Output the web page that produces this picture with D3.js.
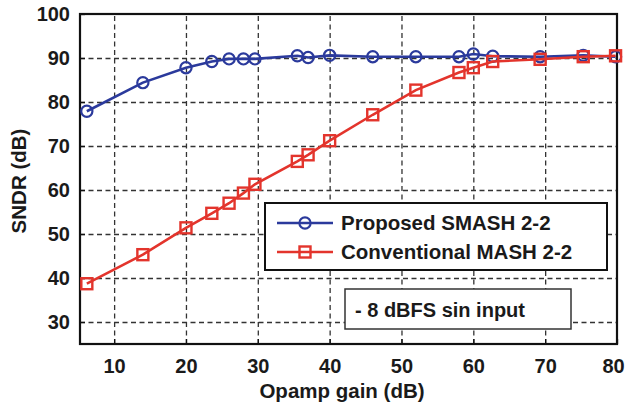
<!DOCTYPE html>
<html>
<head>
<meta charset="utf-8">
<script src="https://cdn.jsdelivr.net/npm/d3@7"></script>
<style>
  html, body { margin: 0; padding: 0; background: #fff; overflow: hidden; }
  svg { display: block; }
  text { font-family: "Liberation Sans", Arial, sans-serif; font-weight: bold; fill: #1a1a1a; }
</style>
</head>
<body>
<div id="chart"></div>
<script>
// ---- data ----
const gain = [6.2, 14, 20, 23.6, 26, 28, 29.6, 35.5, 37, 40, 46, 52, 58, 60, 62.7, 69.3, 75.3, 79.8];
const proposed = [77.9, 84.4, 87.8, 89.2, 89.8, 89.8, 89.8, 90.5, 90.1, 90.6, 90.3, 90.3, 90.3, 90.9, 90.4, 90.3, 90.6, 90.3];
const conventional = [38.7, 45.3, 51.4, 54.7, 57.0, 59.3, 61.3, 66.5, 68.0, 71.2, 77.1, 82.7, 86.7, 87.8, 89.2, 89.7, 90.3, 90.5];
const xTicks = [10, 20, 30, 40, 50, 60, 70, 80];
const yTicks = [30, 40, 50, 60, 70, 80, 90, 100];
const seriesNames = ["Proposed SMASH 2-2", "Conventional MASH 2-2"];
const note = "- 8 dBFS sin input";

const width = 626, height = 408;
const margin = { top: 14, right: 9, bottom: 64, left: 80 };
const innerWidth = width - margin.left - margin.right;
const innerHeight = height - margin.top - margin.bottom;

const blue = "#2b3a9c";
const red = "#e3342c";

const svg = d3.select("#chart").append("svg")
    .attr("width", width)
    .attr("height", height);

const g = svg.append("g")
    .attr("transform", `translate(${margin.left},${margin.top})`);

const x = d3.scaleLinear().domain([5.25, 80]).range([0, innerWidth]);
const y = d3.scaleLinear().domain([25, 100]).range([innerHeight, 0]);

// grid (dashed), no labels
const styleGrid = sel => {
    sel.select(".domain").remove();
    sel.selectAll("text").remove();
    sel.selectAll("line")
        .attr("stroke", "#333")
        .attr("stroke-width", 1.3)
        .attr("stroke-dasharray", "5,3.5");
};

g.append("g")
    .attr("transform", `translate(0,${innerHeight})`)
    .call(d3.axisBottom(x).tickValues(xTicks.slice(0, -1)).tickSize(-innerHeight))
    .call(styleGrid);

g.append("g")
    .call(d3.axisLeft(y).tickValues(yTicks.slice(0, -1)).tickSize(-innerWidth))
    .call(styleGrid);

// axes with labels
const xAxis = g.append("g")
    .attr("transform", `translate(0,${innerHeight})`)
    .call(d3.axisBottom(x).tickValues(xTicks).tickSize(-5).tickPadding(15));
xAxis.select(".domain").remove();
xAxis.selectAll("line").attr("stroke", "#111").attr("stroke-width", 1.3);
xAxis.selectAll("text").attr("font-size", 20).attr("fill", "#1a1a1a");
// keep the last label inside the page
xAxis.selectAll("text").filter(d => d === 80).attr("x", -4);

const yAxis = g.append("g")
    .call(d3.axisLeft(y).tickValues(yTicks).tickSize(-5).tickPadding(10));
yAxis.select(".domain").remove();
yAxis.selectAll("line").attr("stroke", "#111").attr("stroke-width", 1.3);
yAxis.selectAll("text").attr("font-size", 20).attr("fill", "#1a1a1a");

// frame
g.append("rect")
    .attr("width", innerWidth)
    .attr("height", innerHeight)
    .attr("fill", "none")
    .attr("stroke", "#111")
    .attr("stroke-width", 2.2);

// series
const line = d3.line().x(d => x(d[0])).y(d => y(d[1]));
const blueData = d3.zip(gain, proposed);
const redData = d3.zip(gain, conventional);

g.append("path")
    .datum(blueData)
    .attr("d", line)
    .attr("fill", "none")
    .attr("stroke", blue)
    .attr("stroke-width", 2.6);

g.selectAll(".circ")
    .data(blueData)
    .join("circle")
        .attr("class", "circ")
        .attr("cx", d => x(d[0]))
        .attr("cy", d => y(d[1]))
        .attr("r", 5.6)
        .attr("fill", "none")
        .attr("stroke", blue)
        .attr("stroke-width", 2.2);

g.append("path")
    .datum(redData)
    .attr("d", line)
    .attr("fill", "none")
    .attr("stroke", red)
    .attr("stroke-width", 2.6);

const sq = 11;
g.selectAll(".sq")
    .data(redData)
    .join("rect")
        .attr("class", "sq")
        .attr("x", d => x(d[0]) - sq / 2)
        .attr("y", d => y(d[1]) - sq / 2)
        .attr("width", sq)
        .attr("height", sq)
        .attr("fill", "none")
        .attr("stroke", red)
        .attr("stroke-width", 2.4);

// legend
const legend = svg.append("g").attr("transform", "translate(265,203)");
legend.append("rect")
    .attr("width", 342)
    .attr("height", 67)
    .attr("fill", "#fff")
    .attr("stroke", "#111")
    .attr("stroke-width", 2);

[blue, red].forEach((c, i) => {
    const row = legend.append("g").attr("transform", `translate(0,${20 + i * 29})`);
    row.append("line")
        .attr("x1", 12).attr("x2", 68)
        .attr("stroke", c)
        .attr("stroke-width", 2.6);
    if (i === 0) {
        row.append("circle").attr("cx", 40).attr("r", 5.6)
            .attr("fill", "none").attr("stroke", c).attr("stroke-width", 2.2);
    } else {
        row.append("rect").attr("x", 40 - sq / 2).attr("y", -sq / 2)
            .attr("width", sq).attr("height", sq)
            .attr("fill", "none").attr("stroke", c).attr("stroke-width", 2.4);
    }
    row.append("text")
        .attr("x", 76)
        .attr("dy", "0.36em")
        .attr("font-size", 20.5)
        .text(seriesNames[i]);
});

// annotation box
const ann = svg.append("g").attr("transform", "translate(345,289)");
ann.append("rect")
    .attr("width", 226)
    .attr("height", 40)
    .attr("fill", "#fff")
    .attr("stroke", "#333")
    .attr("stroke-width", 1.5);
ann.append("text")
    .attr("x", 10)
    .attr("y", 28)
    .attr("font-size", 20)
    .text(note);

// axis titles
svg.append("text")
    .attr("x", 342)
    .attr("y", 398)
    .attr("text-anchor", "middle")
    .attr("font-size", 20.5)
    .text("Opamp gain (dB)");

svg.append("text")
    .attr("transform", "translate(26,181) rotate(-90)")
    .attr("text-anchor", "middle")
    .attr("font-size", 20.5)
    .text("SNDR (dB)");
</script>
</body>
</html>
